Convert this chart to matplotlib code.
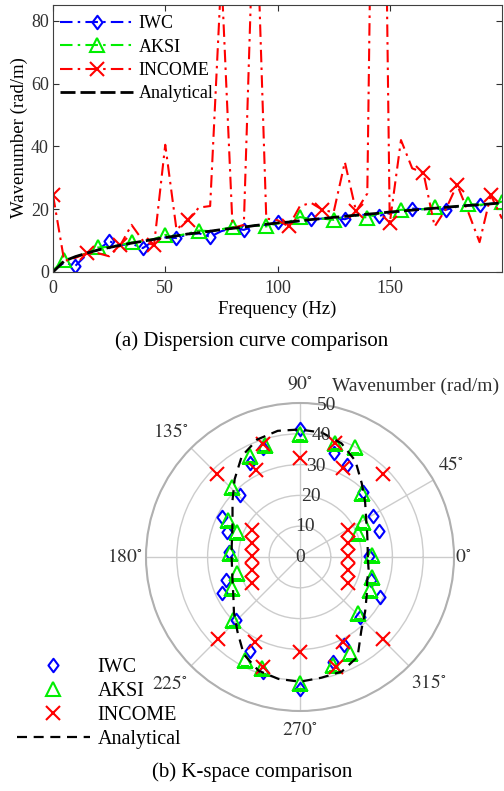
import numpy as np
import matplotlib.pyplot as plt
from matplotlib.path import Path

plt.rcParams['font.family'] = ['Liberation Serif', 'DejaVu Serif']
plt.rcParams['mathtext.fontset'] = 'stix'

################ (a) dispersion curves, sampled every 5 Hz ################
freq = np.arange(0, 201, 5)
k_iwc = [0.5, 3.0, 2.0, 5.5, 7.0, 9.8, 8.5, 9.0, 7.6, 10.0, 11.0, 10.8, 12.0, 12.3,
         11.2, 13.0, 14.0, 13.4, 14.8, 15.0, 15.8, 15.7, 16.3, 16.8, 17.0, 17.2, 16.8,
         18.0, 18.3, 17.8, 18.8, 19.3, 20.2, 20.0, 20.2, 19.8, 20.8, 21.2, 21.2, 21.7, 22.3]
k_aksi = [0.5, 3.8, 4.8, 6.0, 7.8, 8.0, 8.6, 9.4, 9.8, 10.5, 11.8, 11.5, 12.2, 13.2,
          13.0, 13.6, 14.3, 14.3, 14.8, 14.5, 15.5, 15.9, 17.5, 16.8, 17.0, 16.6, 17.7,
          18.1, 17.3, 18.7, 19.1, 19.8, 19.7, 20.0, 20.7, 20.6, 20.9, 21.6, 21.4, 21.7, 22.4]
k_income = [24.5, 3.5, 4.5, 6.0, 6.0, 5.0, 8.5, 15.0, 10.0, 8.5, 40.5, 13.5, 16.6, 20.5,
            21.0, 95.0, 14.0, 15.0, 130.0, 17.0, 16.5, 14.5, 21.0, 22.0, 19.8, 19.0, 35.0,
            19.3, 25.0, 300.0, 15.5, 42.0, 33.0, 31.6, 14.5, 20.0, 27.8, 19.0, 9.5, 24.5, 17.0]
k_analytical = [0.0, 3.5, 4.9, 6.0, 7.0, 7.8, 8.5, 9.2, 9.8, 10.4, 11.0, 11.5, 12.1, 12.5,
                13.0, 13.5, 13.9, 14.3, 14.8, 15.2, 15.6, 15.9, 16.3, 16.7, 17.0, 17.4, 17.7,
                18.1, 18.4, 18.7, 19.1, 19.4, 19.7, 20.0, 20.3, 20.6, 20.9, 21.2, 21.4, 21.7, 22.0]

################ (b) k-space points (angle in degrees, wavenumber) ################
th_iwc = [1, 18, 29, 46, 63, 72, 90, 108.7, 118, 134, 153, 161, 176, 197, 205, 224.5,
          242, 252, 270, 287.7, 296.7, 315, 333.6, 342]
r_iwc = [22.5, 26.8, 27.2, 29.5, 33.6, 35.6, 41.6, 37.2, 34.5, 28.2, 28.6, 25.2, 23.0,
         25.2, 28.0, 29.2, 34.5, 39.2, 43.0, 35.7, 32.0, 27.5, 29.0, 24.4]
th_aksi = [1.6, 22, 29, 46, 63.5, 73, 90, 107.4, 116.3, 134.2, 152.7, 158, 177, 194.5,
           204.6, 223, 242, 251, 270, 287, 297.4, 316, 334.8, 344.8]
r_aksi = [23.3, 20.4, 23.5, 28.8, 40.0, 38.6, 40.0, 38.1, 36.6, 31.8, 26.2, 22.1, 22.8,
          21.2, 24.4, 29.9, 37.9, 38.2, 41.0, 36.7, 35.2, 26.3, 25.1, 24.3]
th_income = [45, 64, 73, 90, 108, 117, 135, 225, 242, 251.5, 270, 288, 297, 315.5,
             150.6, 163.7, 178.8, 195.2, 208.4, 29.4, 16.3, 1.2, 344.8, 331.6]
r_income = [38.3, 32.0, 38.6, 32.0, 38.5, 31.8, 38.3, 37.8, 31.1, 37.6, 30.7, 37.6, 31.1, 37.8,
            17.9, 16.2, 15.6, 16.1, 17.7, 17.9, 16.2, 15.6, 16.1, 17.7]
th_analytical = np.arange(0, 361, 10)
r_analytical = [22.0, 22.3, 23.2, 24.8, 27.6, 31.2, 36.0, 39.3, 41.0, 41.4, 41.6, 40.6, 37.8,
                33.0, 28.6, 25.3, 23.4, 22.5, 22.2, 22.4, 23.3, 25.0, 28.0, 31.6, 36.5, 39.3,
                40.2, 40.5, 39.8, 39.6, 37.4, 31.0, 27.6, 25.0, 23.2, 22.6, 22.0]

grid_angles = [0, 30, 90, 135, 180, 225, 270, 315]
grid_labels = ['0', '45', '90', '135', '180', '225', '270', '315']
r_ticks = [0, 10, 20, 30, 40, 50]

diamond = Path([(0, 1), (0.75, 0), (0, -1), (-0.75, 0), (0, 1)], closed=True)
dashdot = (0, (6, 2.5, 1.2, 2.5))

fig = plt.figure(figsize=(5.04, 7.91), dpi=100)

# ---------------- top: dispersion curves ----------------
ax1 = fig.add_axes([53 / 504, 1 - 272 / 791, 449 / 504, 267 / 791])
ax1.plot(freq, k_iwc, color='blue', ls=dashdot, lw=1.5, marker=diamond, ms=9.7,
         mfc='none', mew=1.5, markevery=(2, 3), label='IWC')
ax1.plot(freq, k_aksi, color='#00ee00', ls=dashdot, lw=1.5, marker='^', ms=9.5,
         mfc='none', mew=1.5, markevery=(1, 3), label='AKSI')
ax1.plot(freq, k_income, color='red', ls=dashdot, lw=1.5, marker='x', ms=9.5,
         mew=1.5, markevery=(0, 3), label='INCOME')
ax1.plot(freq, k_analytical, color='black', ls=(0, (5.4, 1.8)), lw=2, label='Analytical')
ax1.set_xlim(0, 200)
ax1.set_ylim(0, 85)
ax1.set_xticks([0, 50, 100, 150])
ax1.set_yticks([0, 20, 40, 60, 80])
ax1.tick_params(direction='in', top=True, right=True, length=4, labelsize=13,
                colors='#303030')
ax1.tick_params(axis='x', pad=6)
ax1.tick_params(axis='y', pad=3)
for s in ax1.spines.values():
    s.set_color('#404040')
ax1.set_xlabel('Frequency (Hz)', fontsize=13.5, va='center')
ax1.xaxis.set_label_coords(0.5, -(309 - 272) / 267)
ax1.set_ylabel('Wavenumber (rad/m)', fontsize=13.5, va='center')
ax1.yaxis.set_label_coords(-0.075, 0.504)
ax1.legend(loc='upper left', bbox_to_anchor=(60 / 504, 1 - 15 / 791),
           bbox_transform=fig.transFigure, frameon=False, fontsize=13,
           handlelength=4.05, handletextpad=0.3, labelspacing=0.36,
           borderpad=0, borderaxespad=0)

fig.text(0.5, 1 - 341 / 791, '(a) Dispersion curve comparison', ha='center',
         va='center', fontsize=15)

# ---------------- bottom: k-space polar ----------------
ax2 = fig.add_axes([146 / 504, 80 / 791, 308 / 504, 308 / 791], projection='polar')
ax2.plot(np.deg2rad(th_iwc), r_iwc, ls='none', marker=diamond, ms=9.7, mfc='none',
         mec='blue', mew=1.5, label='IWC')
ax2.plot(np.deg2rad(th_aksi), r_aksi, ls='none', marker='^', ms=9.5, mfc='none',
         mec='#00ee00', mew=1.5, label='AKSI')
ax2.plot(np.deg2rad(th_income), r_income, ls='none', marker='x', ms=9.5,
         mec='red', mew=1.5, label='INCOME')
ax2.plot(np.deg2rad(th_analytical), r_analytical, color='black', ls=(0, (4.5, 3)),
         lw=1.6, label='Analytical')
ax2.set_ylim(0, 50)
ax2.set_yticks(r_ticks[1:])
ax2.set_yticklabels([])
ax2.set_thetagrids(grid_angles, labels=[''] * len(grid_angles))
ax2.grid(color='#cccccc', lw=1)
ax2.spines['polar'].set_color('#b0b0b0')
ax2.spines['polar'].set_linewidth(1.5)

label_r = [53, 57.5, 56, 58.5, 57, 59, 56.2, 58.5]
label_th = [0, 31.4, 90, 136, 180, 224.3, 270, 315.7]
for a, rr, lab in zip(label_th, label_r, grid_labels):
    ax2.text(np.deg2rad(a), rr, r'$\mathrm{' + lab + r'}^{\circ}$', ha='center',
             va='center', fontsize=14, color='#303030', clip_on=False)
for rv in r_ticks:
    ax2.text(np.deg2rad(80), rv, str(rv), ha='center', va='center', fontsize=14,
             color='#303030')

fig.text(332 / 504, 1 - 386 / 791, 'Wavenumber (rad/m)', ha='left', va='center',
         fontsize=14, color='#303030')
ax2.legend(loc='upper left', bbox_to_anchor=(17 / 504, 1 - 658 / 791),
           bbox_transform=fig.transFigure, frameon=False, fontsize=14.5,
           handlelength=3.6, handletextpad=0.4, labelspacing=0.25,
           borderpad=0, borderaxespad=0)

fig.text(0.5, 1 - 772 / 791, '(b) K-space comparison', ha='center', va='center',
         fontsize=15)

fig.savefig('out.png', dpi=100)
